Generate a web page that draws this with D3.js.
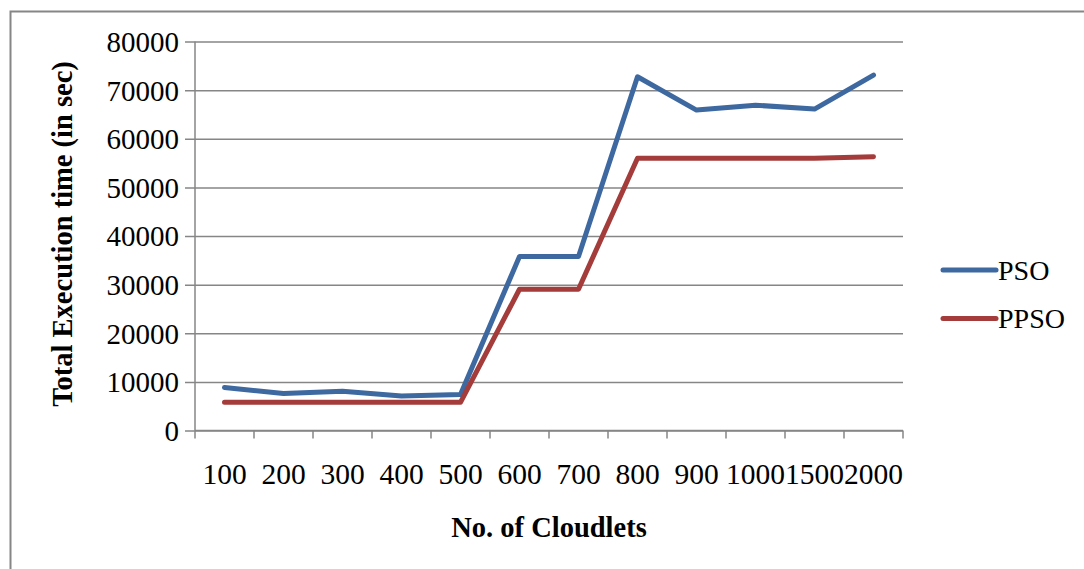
<!DOCTYPE html>
<html>
<head>
<meta charset="utf-8">
<script src="https://cdn.jsdelivr.net/npm/d3@7"></script>
<style>
  body { margin: 0; background: #fff; }
  svg { display: block; }
  svg text { font-family: "Liberation Serif", "Times New Roman", serif; }
</style>
</head>
<body>
<div id="app"></div>
<script>
// chart data
const cloudlets = ['100', '200', '300', '400', '500', '600', '700', '800', '900', '1000', '1500', '2000'];
const psoTimes = [8850, 7600, 8050, 7100, 7400, 35800, 35800, 72750, 65900, 66900, 66100, 73100];
const ppsoTimes = [5800, 5800, 5800, 5800, 5800, 29050, 29050, 56000, 56000, 56000, 56000, 56300];
const seriesNames = ['PSO', 'PPSO'];
const yTicks = [0, 10000, 20000, 30000, 40000, 50000, 60000, 70000, 80000];

const w = 1084;
const h = 569;
const FONT = '"Liberation Serif", "Times New Roman", serif';
const color = d3.scaleOrdinal(seriesNames, ['#3d68a0', '#a33c3a']);

const svg = d3.select('#app').append('svg')
  .attr('width', w)
  .attr('height', h)
  .attr('font-family', FONT);

// outer chart frame (runs off the right and bottom edges)
svg.append('rect')
  .attr('x', 10.5)
  .attr('y', 11.5)
  .attr('width', 1200)
  .attr('height', 700)
  .attr('fill', 'none')
  .attr('stroke', '#868686')
  .attr('stroke-width', 2);

const x = d3.scaleBand()
  .domain(cloudlets)
  .range([195, 903]);

const y = d3.scaleLinear()
  .domain([0, 80000])
  .range([430.5, 41.5]);

//////////Y AXIS + GRID//////////
const yAxis = svg.append('g')
  .attr('transform', 'translate(195,0)')
  .call(d3.axisLeft(y).tickValues(yTicks).tickSize(10).tickPadding(17).tickFormat(d3.format('d')))
  .attr('font-family', FONT);

yAxis.select('.domain')
  .attr('stroke', '#868686')
  .attr('stroke-width', 1.5)
  .attr('d', `M0,${y(0)}V${y(80000)}`);

yAxis.selectAll('.tick line')
  .attr('stroke', '#868686')
  .attr('stroke-width', 1.5)
  .attr('x1', -10)
  .attr('x2', 903 - 195);

yAxis.selectAll('.tick text')
  .attr('fill', '#000')
  .attr('font-size', 29)
  .attr('x', -16)
  .attr('dy', '0.34em');

//////////X AXIS//////////
const xAxis = svg.append('g')
  .attr('transform', `translate(0,${y(0)})`);

xAxis.append('line')
  .attr('x1', 195)
  .attr('x2', 903)
  .attr('stroke', '#868686')
  .attr('stroke-width', 1.5);

const boundaries = cloudlets.map((c) => x(c)).concat([x.range()[1]]);

xAxis.selectAll('.xtick')
  .data(boundaries)
  .join('line')
  .attr('class', 'xtick')
  .attr('x1', (d) => d)
  .attr('x2', (d) => d)
  .attr('y1', 0)
  .attr('y2', 8)
  .attr('stroke', '#868686')
  .attr('stroke-width', 1.5);

xAxis.selectAll('.xlabel')
  .data(cloudlets)
  .join('text')
  .attr('class', 'xlabel')
  .attr('x', (d) => x(d) + x.bandwidth() / 2)
  .attr('y', 53)
  .attr('text-anchor', 'middle')
  .attr('font-size', 29.5)
  .text((d) => d);

//////////TITLES//////////
svg.append('text')
  .attr('transform', 'translate(72,234) rotate(-90)')
  .attr('text-anchor', 'middle')
  .attr('font-size', 28.5)
  .attr('font-weight', 'bold')
  .text('Total Execution time  (in sec)');

svg.append('text')
  .attr('x', 549)
  .attr('y', 537)
  .attr('text-anchor', 'middle')
  .attr('font-size', 28.5)
  .attr('font-weight', 'bold')
  .text('No. of Cloudlets');

//////////LINES//////////
const series = [
  { name: 'PSO', values: psoTimes },
  { name: 'PPSO', values: ppsoTimes }
];

const line = d3.line()
  .x((d, i) => x(cloudlets[i]) + x.bandwidth() / 2)
  .y((d) => y(d));

svg.selectAll('.series')
  .data(series)
  .join('path')
  .attr('class', 'series')
  .attr('d', (d) => line(d.values))
  .attr('fill', 'none')
  .attr('stroke', (d) => color(d.name))
  .attr('stroke-width', 5)
  .attr('stroke-linejoin', 'round')
  .attr('stroke-linecap', 'round');

//////////LEGEND//////////
const legend = svg.selectAll('.legendG')
  .data(seriesNames)
  .join('g')
  .attr('class', 'legendG')
  .attr('transform', (d, i) => `translate(0,${270 + i * 48.5})`);

legend.append('line')
  .attr('x1', 943)
  .attr('x2', 996)
  .attr('stroke', (d) => color(d))
  .attr('stroke-width', 5)
  .attr('stroke-linecap', 'round');

legend.append('text')
  .attr('x', 998)
  .attr('y', 9.5)
  .attr('font-size', 28)
  .text((d) => d);
</script>
</body>
</html>
